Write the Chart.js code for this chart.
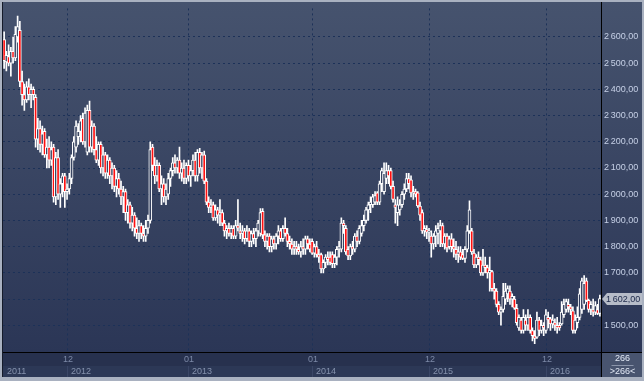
<!DOCTYPE html>
<html>
<head>
<meta charset="utf-8">
<script src="https://cdn.jsdelivr.net/npm/chart.js@4.4.0/dist/chart.umd.min.js"></script>
<style>
  html, body { margin: 0; padding: 0; background: #a9b1c0; }
  canvas { display: block; }
</style>
</head>
<body>
<canvas id="priceChart" width="644" height="381"></canvas>
<script>
// weekly bars
var opens = [2590,2505,2525,2500,2545,2520,2600,2625,2430,2380,
 2360,2410,2380,2400,2370,2210,2250,2190,2240,2150,
 2180,2130,2180,1990,2140,2000,2040,2070,2010,2020,
 2060,2140,2180,2220,2240,2290,2200,2160,2320,2180,
 2260,2170,2130,2190,2100,2150,2080,2130,2070,2100,
 2030,2060,2020,1990,2010,1930,1960,1890,1920,1870,
 1850,1880,1850,1840,1870,1900,2180,2110,2070,2110,
 2020,2040,1990,2000,2060,2090,2120,2100,2130,2080,
 2100,2060,2110,2070,2090,2130,2070,2160,2100,2150,
 2050,1970,1950,1960,1910,1940,1920,1930,1890,1860,
 1870,1850,1870,1840,1880,1860,1850,1860,1830,1860,
 1820,1850,1830,1860,1850,1935,1845,1820,1840,1800,
 1830,1810,1840,1860,1830,1870,1850,1820,1810,1790,
 1800,1790,1780,1800,1790,1830,1810,1820,1775,1800,
 1770,1770,1715,1740,1760,1760,1770,1735,1760,1790,
 1790,1890,1870,1790,1765,1800,1790,1840,1820,1850,
 1880,1900,1940,1960,1960,1970,2005,1970,2040,2010,
 2060,2090,2090,2030,1960,1930,1940,1960,2000,2020,
 2060,2055,2005,2010,2005,1955,1930,1860,1865,1855,
 1840,1810,1840,1850,1860,1880,1810,1840,1800,1830,
 1800,1790,1770,1780,1770,1755,1790,1860,1860,1775,
 1730,1760,1750,1700,1730,1720,1700,1705,1640,1630,
 1580,1550,1560,1600,1620,1630,1600,1600,1565,1490,
 1520,1480,1520,1500,1530,1480,1460,1455,1520,1480,
 1500,1480,1530,1525,1505,1510,1500,1500,1505,1540,
 1560,1580,1570,1555,1480,1510,1530,1560,1580,1670,
 1595,1560,1560,1550,1560,1545];

var highs = [2620,2545,2570,2560,2600,2640,2680,2660,2470,2420,
 2430,2440,2420,2410,2380,2290,2280,2260,2250,2210,
 2220,2200,2190,2160,2170,2060,2080,2080,2040,2080,
 2150,2220,2280,2270,2300,2310,2330,2340,2355,2280,
 2270,2220,2200,2200,2180,2160,2150,2140,2120,2110,
 2090,2080,2050,2030,2020,1980,1970,1950,1930,1910,
 1900,1890,1880,1900,1920,2200,2190,2140,2130,2120,
 2070,2060,2040,2080,2100,2140,2150,2140,2180,2120,
 2130,2120,2130,2110,2150,2160,2170,2175,2160,2165,
 2060,1990,1980,1970,1960,1950,1980,1940,1900,1880,
 1890,1880,1880,1900,1980,1890,1880,1870,1880,1870,
 1860,1870,1870,1900,1945,1945,1860,1850,1850,1840,
 1840,1850,1880,1870,1880,1910,1870,1840,1830,1820,
 1820,1810,1820,1830,1840,1840,1830,1830,1810,1820,
 1790,1775,1750,1770,1780,1780,1780,1770,1800,1820,
 1910,1900,1880,1800,1810,1820,1850,1860,1880,1900,
 1920,1950,1970,1990,2000,2010,2010,2050,2100,2120,
 2120,2110,2100,2050,1980,1990,1980,2010,2040,2080,
 2080,2070,2030,2020,2010,1970,1940,1880,1880,1870,
 1860,1850,1880,1890,1900,1890,1850,1850,1840,1850,
 1830,1820,1800,1800,1790,1800,1880,1975,1870,1790,
 1770,1780,1760,1790,1760,1730,1760,1710,1660,1640,
 1590,1570,1660,1660,1650,1650,1620,1610,1580,1540,
 1530,1560,1540,1560,1540,1490,1480,1550,1530,1520,
 1510,1560,1550,1530,1540,1525,1530,1510,1590,1600,
 1600,1600,1580,1570,1540,1570,1640,1680,1690,1680,
 1600,1590,1600,1590,1580,1615];

var lows = [2480,2470,2490,2450,2500,2510,2580,2410,2340,2320,
 2350,2360,2330,2360,2180,2170,2160,2150,2140,2100,
 2100,2110,1970,1960,1980,1950,1990,1950,1980,2000,
 2040,2130,2160,2190,2200,2190,2180,2150,2160,2160,
 2150,2120,2110,2080,2070,2060,2060,2040,2020,2010,
 1990,2000,1960,1930,1900,1890,1870,1860,1840,1830,
 1820,1830,1820,1820,1850,1890,2090,2040,2050,2010,
 1960,1970,1960,1980,2030,2070,2080,2080,2060,2050,
 2040,2040,2050,2030,2070,2050,2050,2080,2060,2040,
 1960,1930,1930,1900,1900,1890,1880,1880,1840,1830,
 1840,1830,1830,1830,1860,1830,1820,1810,1820,1800,
 1800,1810,1800,1840,1840,1830,1800,1790,1780,1780,
 1790,1790,1810,1820,1820,1840,1800,1790,1770,1770,
 1770,1770,1760,1770,1770,1790,1780,1770,1760,1760,
 1740,1700,1700,1720,1730,1730,1720,1720,1730,1760,
 1780,1850,1770,1750,1750,1770,1780,1800,1810,1840,
 1860,1890,1900,1930,1950,1960,1960,1960,2010,2000,
 2040,2040,2020,1970,1890,1880,1920,1950,1980,2010,
 2020,1990,1980,1990,1950,1900,1850,1840,1830,1820,
 1760,1790,1800,1810,1800,1800,1790,1780,1790,1780,
 1760,1750,1740,1750,1750,1740,1780,1850,1770,1720,
 1720,1730,1690,1690,1700,1680,1630,1630,1600,1570,
 1540,1500,1550,1580,1590,1580,1570,1560,1500,1480,
 1470,1470,1480,1480,1470,1440,1430,1450,1460,1470,
 1460,1470,1490,1480,1490,1480,1470,1480,1500,1530,
 1550,1550,1540,1470,1470,1490,1520,1545,1560,1590,
 1550,1540,1535,1540,1540,1535];

var closes = [2510,2530,2500,2545,2520,2610,2640,2430,2380,2360,
 2410,2380,2400,2380,2210,2250,2190,2230,2150,2180,
 2130,2170,1990,2140,2000,2040,2070,2010,2020,2060,
 2140,2200,2260,2240,2280,2200,2310,2320,2180,2260,
 2170,2130,2190,2100,2150,2080,2130,2070,2100,2030,
 2060,2020,1990,2010,1930,1960,1890,1920,1870,1850,
 1880,1850,1840,1870,1900,2170,2110,2070,2110,2020,
 2040,1990,2020,2060,2090,2120,2100,2130,2080,2100,
 2060,2110,2070,2090,2130,2070,2160,2100,2150,2050,
 1970,1950,1960,1910,1940,1920,1930,1890,1860,1870,
 1850,1870,1840,1880,1870,1850,1860,1830,1860,1820,
 1850,1830,1860,1890,1930,1845,1820,1840,1800,1830,
 1810,1840,1860,1830,1870,1850,1820,1810,1790,1800,
 1790,1780,1800,1790,1830,1810,1790,1775,1800,1770,
 1760,1715,1740,1760,1750,1740,1735,1760,1790,1800,
 1890,1880,1780,1765,1800,1790,1840,1820,1870,1880,
 1900,1940,1960,1970,1990,1995,1970,2040,2090,2080,
 2090,2070,2030,1980,1950,1960,1960,2000,2020,2060,
 2040,2005,2010,2000,1955,1920,1860,1870,1855,1860,
 1810,1840,1860,1870,1880,1810,1840,1795,1830,1800,
 1790,1770,1780,1760,1755,1790,1860,1940,1780,1730,
 1760,1750,1700,1730,1720,1700,1710,1640,1630,1580,
 1550,1560,1610,1630,1640,1600,1610,1565,1510,1530,
 1480,1530,1500,1530,1480,1460,1450,1520,1480,1500,
 1490,1540,1520,1505,1520,1500,1490,1490,1550,1580,
 1590,1570,1560,1480,1520,1530,1620,1670,1660,1595,
 1560,1580,1550,1575,1545,1602];

var yTicks = [1500, 1600, 1700, 1800, 1900, 2000, 2100, 2200, 2300, 2400, 2500, 2600];
var monthTicks = [28, 82, 137, 189, 241];          // bar index where the month label sits
var monthLabels = ['12', '01', '01', '12', '12'];
var yearLabels = ['2011', '2012', '2013', '2014', '2015', '2016'];
var lastPrice = 1602;
var barCount = '266';

var weeks = opens.map(function (o, i) { return i; });

function fmtPrice(v) {
    var s = v.toFixed(2).split('.');
    return s[0].replace(/\B(?=(\d{3})+(?!\d))/g, '\u2009') + ',' + s[1];
}

var FONT = '9px "Liberation Sans", Arial, sans-serif';
var bgCache = null;
function panelGradient(c) {
    var g = c.createLinearGradient(0, 2, 0, 352);
    g.addColorStop(0, '#46536e');
    g.addColorStop(1, '#2b3656');
    return g;
}

function bodyFill(ctx) {
    var i = ctx.dataIndex;
    if (closes[i] < opens[i]) return '#ff1010';
    if (!bgCache) bgCache = panelGradient(ctx.chart.ctx);
    return bgCache;
}

var framePlugin = {
    id: 'frame',
    beforeDraw: function (chart) {
        var c = chart.ctx, a = chart.chartArea;
        c.save();
        c.fillStyle = '#a9b1c0';
        c.fillRect(0, 0, 644, 381);
        c.fillStyle = panelGradient(c);
        c.fillRect(2, 2, 640, a.bottom - 2);
        // time axis rows
        c.fillStyle = '#27314e';
        c.fillRect(2, a.bottom, a.right - 2, 14);
        c.fillStyle = '#2c3856';
        c.fillRect(2, a.bottom + 14, a.right - 2, 11);
        // corner box
        c.fillStyle = '#48546f';
        c.fillRect(a.right, a.bottom, 642 - a.right, 25);
        c.restore();
    },
    beforeDatasetsDraw: function (chart) {
        var c = chart.ctx, a = chart.chartArea, xs = chart.scales.x;
        c.save();
        c.strokeStyle = '#1c3158';
        c.lineWidth = 1;
        c.setLineDash([2, 3]);
        monthTicks.forEach(function (idx) {
            var x = Math.round(xs.getPixelForValue(idx)) + 0.5;
            c.beginPath();
            c.moveTo(x, a.top);
            c.lineTo(x, a.bottom);
            c.stroke();
        });
        c.setLineDash([]);
        c.strokeStyle = '#3a4666';
        monthTicks.forEach(function (idx) {
            var x = Math.round(xs.getPixelForValue(idx)) + 0.5;
            c.beginPath();
            c.moveTo(x, a.bottom + 14);
            c.lineTo(x, a.bottom + 25);
            c.stroke();
        });
        c.restore();
    },
    afterDraw: function (chart) {
        var c = chart.ctx, a = chart.chartArea, xs = chart.scales.x, ys = chart.scales.y;
        c.save();
        // dark frame lines
        c.strokeStyle = '#000000';
        c.lineWidth = 1;
        c.beginPath();
        c.moveTo(a.right + 0.5, 2); c.lineTo(a.right + 0.5, 377);
        c.moveTo(2, a.bottom + 0.5); c.lineTo(642, a.bottom + 0.5);
        c.stroke();
        c.strokeStyle = '#151b2a';
        c.beginPath();
        c.moveTo(2.5, 2); c.lineTo(2.5, 377);
        c.stroke();

        // time axis labels
        c.font = FONT;
        c.textBaseline = 'middle';
        c.textAlign = 'center';
        c.fillStyle = '#7d8aa8';
        monthTicks.forEach(function (idx, k) {
            c.fillText(monthLabels[k], Math.round(xs.getPixelForValue(idx)) + 1, a.bottom + 8);
        });
        c.textAlign = 'left';
        c.fillStyle = '#8592ad';
        c.fillText(yearLabels[0], 7, a.bottom + 20);
        monthTicks.forEach(function (idx, k) {
            c.fillText(yearLabels[k + 1], Math.round(xs.getPixelForValue(idx)) + 4, a.bottom + 20);
        });

        // corner box
        c.textAlign = 'center';
        c.fillStyle = '#e2e8f5';
        var cx = (a.right + 642) / 2 + 1;
        c.fillText(barCount, cx, a.bottom + 7);
        c.fillText('>' + barCount + '<', cx, a.bottom + 20);
        c.strokeStyle = '#8a94aa';
        c.beginPath();
        c.moveTo(cx - 11, a.bottom + 13.5); c.lineTo(cx + 11, a.bottom + 13.5);
        c.stroke();

        // last price tag
        var py = Math.round(ys.getPixelForValue(lastPrice));
        c.fillStyle = '#b6bcc8';
        c.beginPath();
        c.moveTo(a.right + 1, py);
        c.lineTo(a.right + 6, py - 6);
        c.lineTo(642, py - 6);
        c.lineTo(642, py + 6);
        c.lineTo(a.right + 6, py + 6);
        c.closePath();
        c.fill();
        c.textAlign = 'left';
        c.fillStyle = '#1b2748';
        c.fillText(fmtPrice(lastPrice), a.right + 5, py + 0.5);
        c.restore();
    }
};

var chart = new Chart(document.getElementById('priceChart'), {
    type: 'bar',
    data: {
        labels: weeks,
        datasets: [
            {
                label: 'body',
                data: opens.map(function (o, i) { return [o, closes[i]]; }),
                grouped: false,
                barThickness: 3,
                borderWidth: 1,
                borderColor: '#ffffff',
                borderSkipped: false,
                backgroundColor: bodyFill,
                order: 0
            },
            {
                label: 'wick',
                data: lows.map(function (l, i) { return [l, highs[i]]; }),
                grouped: false,
                barThickness: 1,
                borderWidth: 0,
                backgroundColor: '#ffffff',
                order: 1
            }
        ]
    },
    options: {
        responsive: false,
        animation: false,
        devicePixelRatio: 1,
        events: [],
        layout: { padding: { left: 3, top: 3, right: 0, bottom: 29 } },
        plugins: { legend: { display: false }, tooltip: { enabled: false } },
        scales: {
            x: { type: 'category', display: false },
            y: {
                position: 'right',
                min: 1398,
                max: 2709,
                afterBuildTicks: function (s) { s.ticks = yTicks.map(function (v) { return { value: v }; }); },
                afterFit: function (s) { s.width = 43; },
                grid: { color: '#1c3158', lineWidth: 1, drawTicks: false },
                border: { display: false, dash: [2, 3] },
                ticks: {
                    color: '#c6d0e6',
                    font: { family: '"Liberation Sans", Arial, sans-serif', size: 9 },
                    padding: 3,
                    callback: function (v) { return fmtPrice(v); }
                }
            }
        }
    },
    plugins: [framePlugin]
});
</script>
</body>
</html>
